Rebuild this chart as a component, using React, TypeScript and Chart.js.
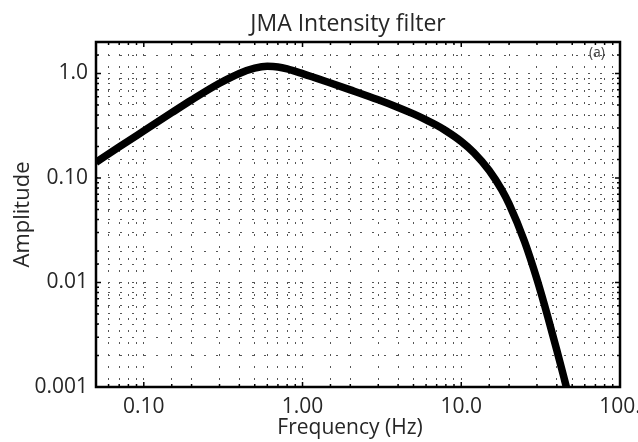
import React, { useEffect, useRef } from "react";
import { Chart, registerables } from "chart.js";

Chart.register(...registerables);

const frequencies = [0.05, 0.07, 0.1, 0.15, 0.2, 0.3, 0.4, 0.5, 0.6, 0.7, 0.8, 1.0, 1.5, 2, 3, 4, 5, 6, 7, 8, 10, 12, 15, 18, 20, 25, 30, 35, 40, 45, 48];
const amplitudes = [0.141, 0.198, 0.282, 0.421, 0.557, 0.805, 1.0, 1.123, 1.169, 1.154, 1.106, 0.996, 0.810, 0.697, 0.560, 0.473, 0.410, 0.360, 0.319, 0.283, 0.2235, 0.175, 0.118, 0.0769, 0.0565, 0.0248, 0.0107, 0.00476, 0.00225, 0.00113, 0.00077];

const xTickValues = [0.1, 1, 10, 100];
const xTickLabels = ["0.10", "1.00", "10.0", "100."];
const yTickValues = [0.001, 0.01, 0.1, 1];
const yTickLabels = ["0.001", "0.01", "0.10", "1.0"];

const titleText = "JMA Intensity filter";
const panelLabel = "(a)";
const xTitle = "Frequency (Hz)";
const yTitle = "Amplitude";

const FONT = "'Open Sans', 'DejaVu Sans', sans-serif";
const TEXT = "#262626";

function labelFor(v: number, vals: number[], labels: string[]) {
  for (let i = 0; i < vals.length; i++) {
    if (Math.abs(Math.log10(v) - Math.log10(vals[i])) < 1e-6) return labels[i];
  }
  return "";
}

const framePlugin = {
  id: "frame",
  afterDraw(chart: any) {
    const { ctx, chartArea } = chart;
    const { left, right, top, bottom } = chartArea;
    ctx.save();
    ctx.strokeStyle = "#000";
    ctx.lineWidth = 1.5;
    const xs = chart.scales.x;
    const ys = chart.scales.y;
    xs.ticks.forEach((t: any) => {
      const px = xs.getPixelForValue(t.value);
      const major = labelFor(t.value, xTickValues, xTickLabels) !== "";
      const len = major ? 5 : 3;
      ctx.beginPath();
      ctx.moveTo(px, bottom);
      ctx.lineTo(px, bottom - len);
      ctx.moveTo(px, top);
      ctx.lineTo(px, top + len);
      ctx.stroke();
    });
    ys.ticks.forEach((t: any) => {
      const py = ys.getPixelForValue(t.value);
      const major = labelFor(t.value, yTickValues, yTickLabels) !== "";
      const len = major ? 5 : 3;
      ctx.beginPath();
      ctx.moveTo(left, py);
      ctx.lineTo(left + len, py);
      ctx.moveTo(right, py);
      ctx.lineTo(right - len, py);
      ctx.stroke();
    });
    ctx.lineWidth = 2.5;
    ctx.strokeRect(left, top, right - left, bottom - top);
    ctx.fillStyle = "#444";
    ctx.font = `14px ${FONT}`;
    ctx.textAlign = "right";
    ctx.textBaseline = "top";
    ctx.fillText(panelLabel, right - 15, top + 4);
    ctx.fillStyle = TEXT;
    ctx.font = `23px ${FONT}`;
    ctx.textAlign = "center";
    ctx.textBaseline = "alphabetic";
    ctx.fillText(titleText, (left + right) / 2 - 10, 31);
    ctx.font = `21px ${FONT}`;
    ctx.fillText(xTitle, (left + right) / 2 - 8, 434);
    ctx.restore();
  },
};

export default function App() {
  const ref = useRef<HTMLCanvasElement | null>(null);
  useEffect(() => {
    if (!ref.current) return;
    const chart = new Chart(ref.current, {
      type: "line",
      data: {
        datasets: [
          {
            data: frequencies.map((f, i) => ({ x: f, y: amplitudes[i] })),
            borderColor: "#000",
            borderWidth: 7.5,
            pointRadius: 0,
            cubicInterpolationMode: "monotone",
            fill: false,
          },
        ],
      },
      options: {
        animation: false,
        responsive: false,
        maintainAspectRatio: false,
        layout: { padding: { top: 42, right: 18, left: 0, bottom: 0 } },
        plugins: { legend: { display: false }, title: { display: false }, tooltip: { enabled: false } },
        scales: {
          x: {
            type: "logarithmic",
            min: 0.05,
            max: 100,
            border: { display: false, dash: [2, 10] },
            grid: { color: "#555", lineWidth: 1, drawTicks: false },
            ticks: {
              autoSkip: false,
              maxRotation: 0,
              padding: 7,
              color: TEXT,
              font: { family: FONT, size: 21 },
              callback: (v: any) => labelFor(Number(v), xTickValues, xTickLabels),
            },
            title: { display: false, text: xTitle },
            afterFit: (s: any) => {
              s.height = 55;
              s.paddingLeft = 0;
              s.paddingRight = 0;
            },
          },
          y: {
            type: "logarithmic",
            min: 0.001,
            max: 2,
            border: { display: false, dash: [2, 10] },
            grid: { color: "#555", lineWidth: 1, drawTicks: false },
            ticks: {
              autoSkip: false,
              padding: 8,
              color: TEXT,
              font: { family: FONT, size: 21 },
              callback: (v: any) => labelFor(Number(v), yTickValues, yTickLabels),
            },
            title: { display: true, text: yTitle, color: TEXT, font: { family: FONT, size: 22 }, padding: { top: 10, bottom: 0 } },
            afterFit: (s: any) => {
              s.width = 96;
              s.paddingTop = 0;
              s.paddingBottom = 0;
            },
          },
        },
      } as any,
      plugins: [framePlugin],
    });
    return () => chart.destroy();
  }, []);
  return (
    <div style={{ position: "fixed", left: 0, top: 0, width: 638, height: 442, background: "#fff" }}>
      <canvas ref={ref} width={638} height={442} style={{ width: 638, height: 442 }} />
    </div>
  );
}
